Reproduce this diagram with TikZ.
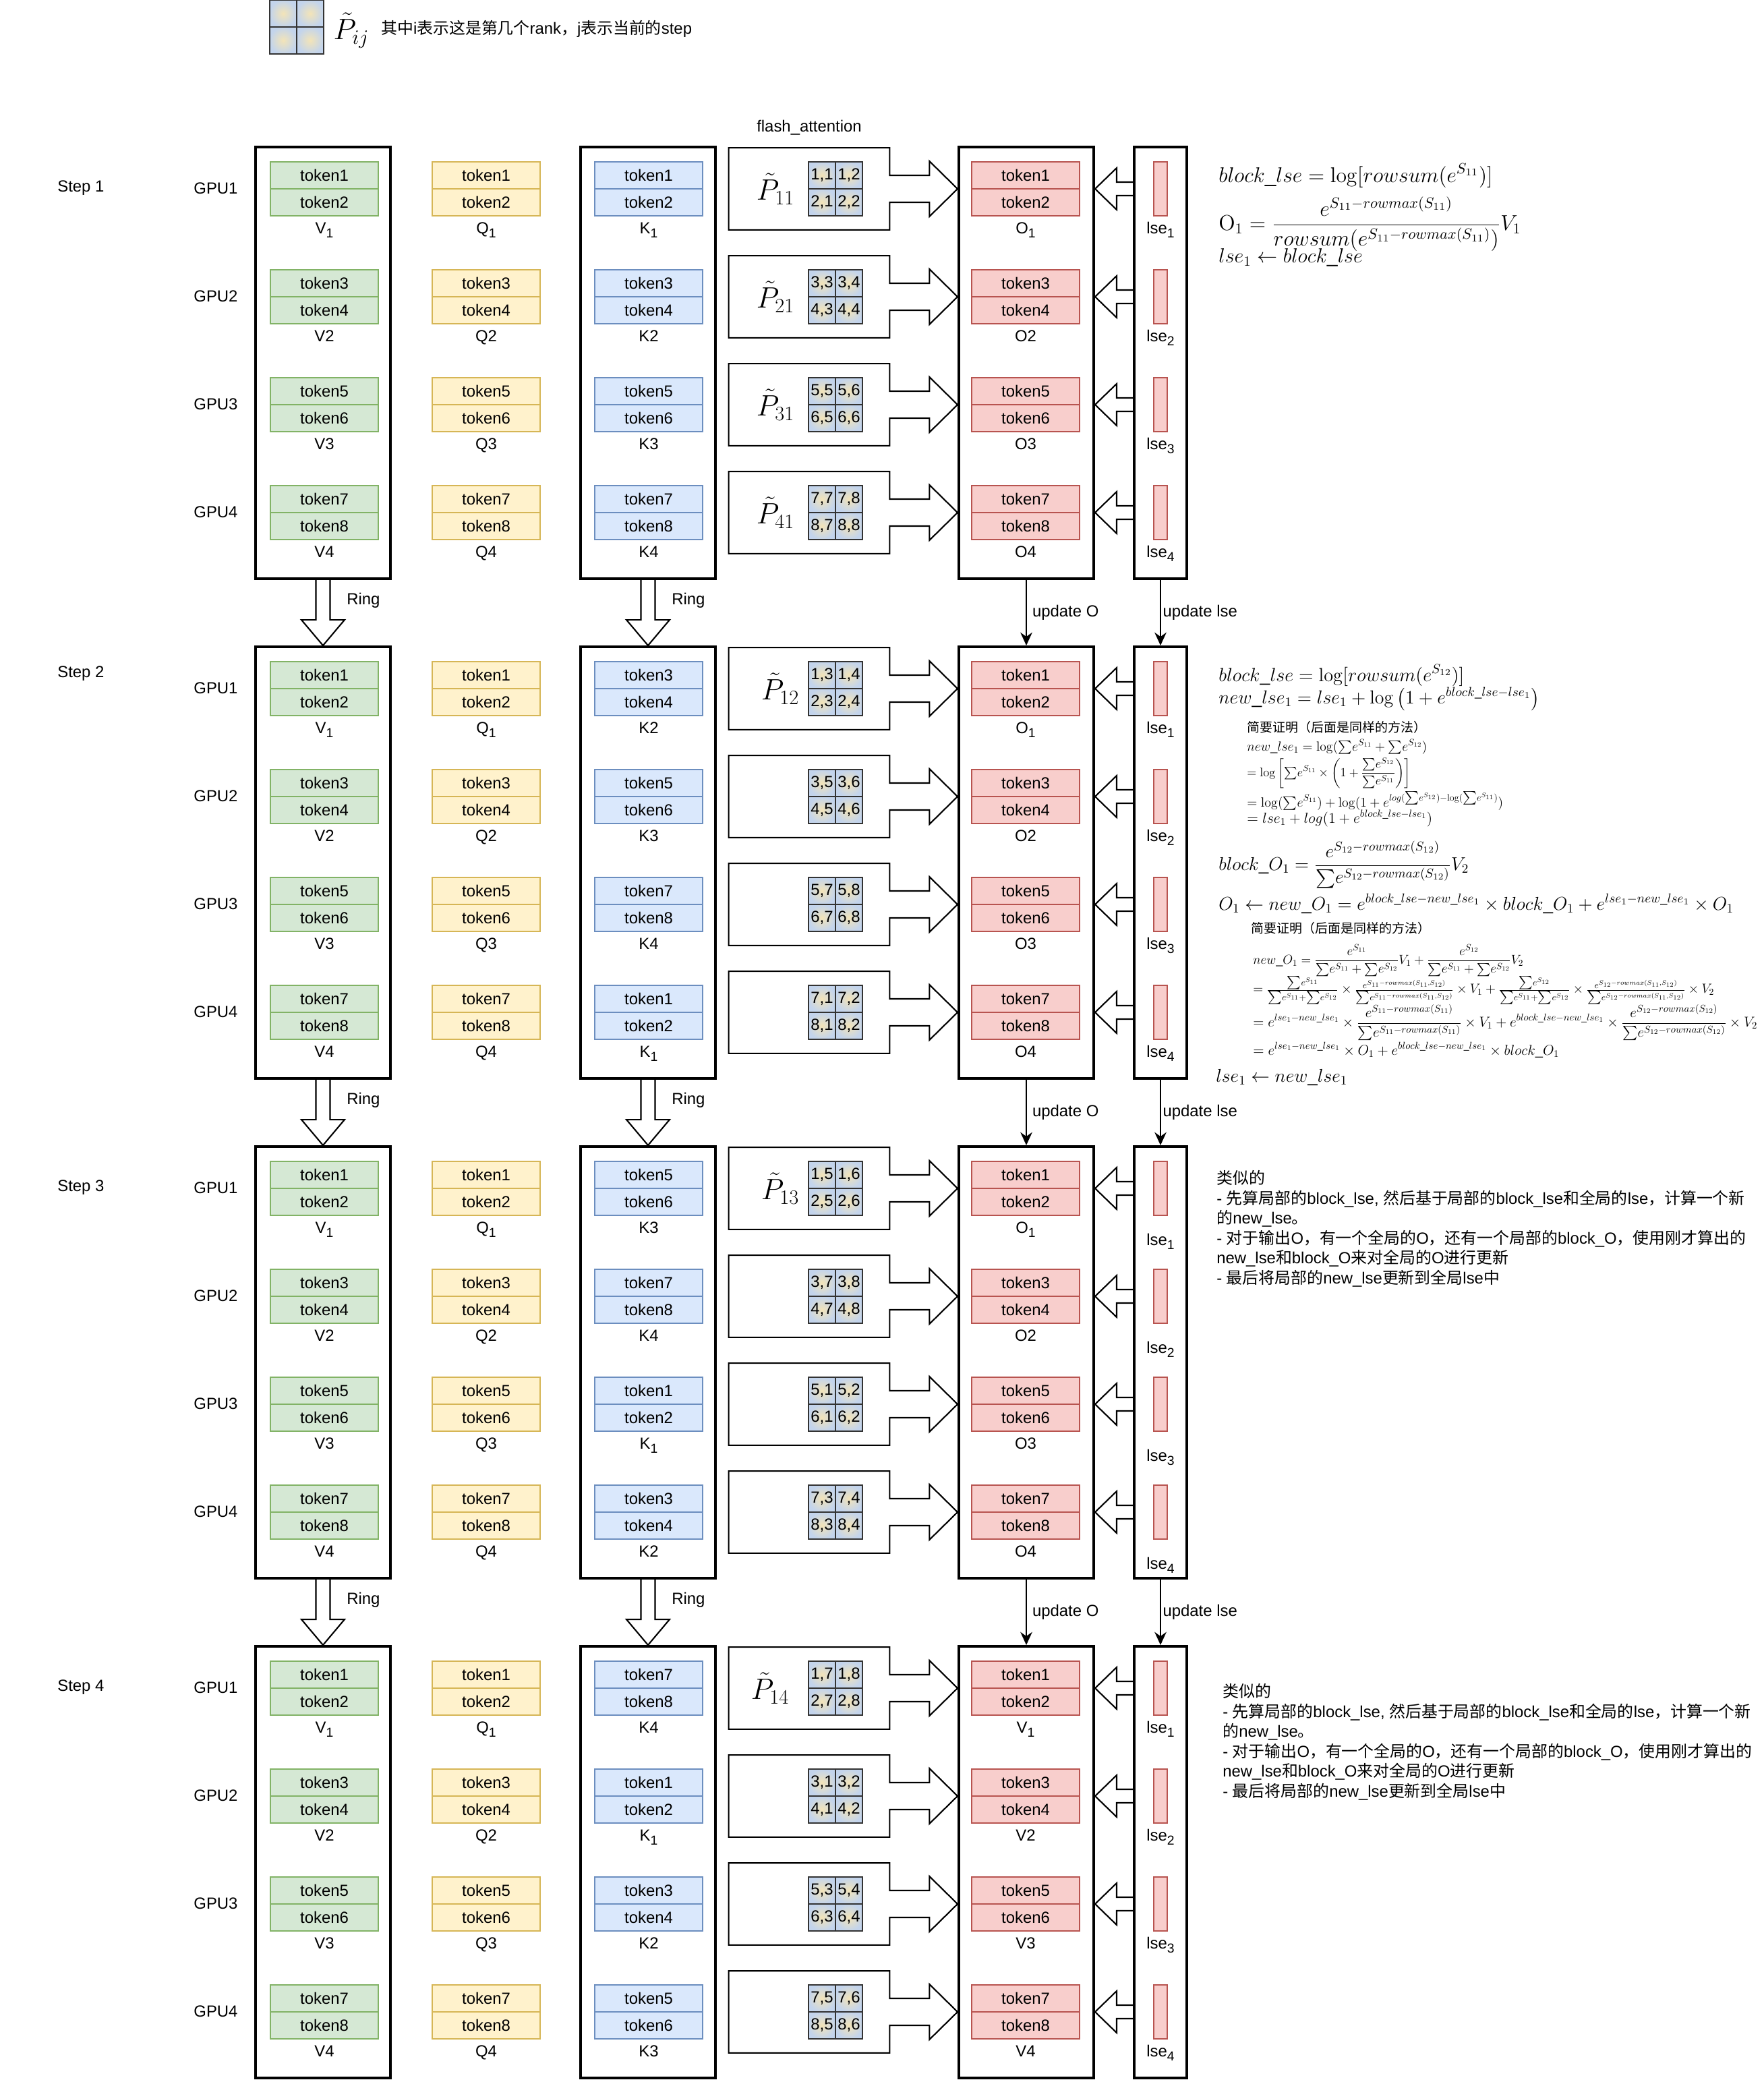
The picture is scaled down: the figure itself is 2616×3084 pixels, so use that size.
\documentclass[tikz,border=0pt]{standalone}
\usepackage{amsmath,graphicx}
\usepackage[no-math]{fontspec}
\setmainfont{Liberation Sans}
\newfontfamily\cjk{Noto Sans CJK SC}
\usetikzlibrary{calc,positioning,arrows.meta}
\definecolor{vfill}{HTML}{D5E8D4}
\definecolor{vdraw}{HTML}{82B366}
\definecolor{qfill}{HTML}{FFF2CC}
\definecolor{qdraw}{HTML}{D6B656}
\definecolor{kfill}{HTML}{DAE8FC}
\definecolor{kdraw}{HTML}{6C8EBF}
\definecolor{ofill}{HTML}{F8CECC}
\definecolor{odraw}{HTML}{B85450}
\definecolor{pblue}{HTML}{C3D4EC}
\definecolor{pyellow}{HTML}{F3E4B8}

\newcommand\zh[1]{{\cjk #1}}
\newcommand\tsum{{\textstyle\sum}}
\newcommand\fitw[2]{\resizebox{#1}{!}{$\displaystyle #2$}}
\newcommand\sub[1]{\raisebox{-3.7pt}{\fontsize{11}{11}\selectfont #1}}
\newcommand\sublab[2]{\ifnum#2=1 #1\sub{1}\else #1#2\fi}
\newcommand\ptil[1]{$\tilde{P}_{\hbox{\fontsize{17.28}{18}\selectfont$#1$}}$}
\newcommand\notes{\zh{类似的}\\
- \zh{先算局部的}block\_lse, \zh{然后基于局部的}block\_lse\zh{和全局的}lse\zh{，计算一个新}\\
\zh{的}new\_lse\zh{。}\\
- \zh{对于输出}O\zh{，有一个全局的}O\zh{，还有一个局部的}block\_O\zh{，使用刚才算出的}\\
new\_lse\zh{和}block\_O\zh{来对全局的}O\zh{进行更新}\\
- \zh{最后将局部的}new\_lse\zh{更新到全局}lse\zh{中}}

\begin{document}
\begin{tikzpicture}[x=0.02cm,y=-0.02cm,font=\fontsize{13.6}{16}\selectfont]

\tikzset{container/.style={draw,line width=2.3pt,minimum width=4cm,minimum height=12.8cm,inner sep=0pt},
lsecol/.style={container,minimum width=1.56cm},
token/.style={line width=1.2pt,minimum width=3.2cm,minimum height=0.8cm,inner sep=0pt,outer sep=0pt},
vtok/.style={token,draw=vdraw,fill=vfill},
qtok/.style={token,draw=qdraw,fill=qfill},
ktok/.style={token,draw=kdraw,fill=kfill},
otok/.style={token,draw=odraw,fill=ofill},
lsebar/.style={draw=odraw,fill=ofill,line width=1.2pt,minimum width=0.4cm,minimum height=1.6cm,inner sep=0pt},
cell/.style={draw=black!80,line width=1.1pt,minimum size=0.8cm,inner sep=0pt,outer sep=0pt,inner color=pyellow,outer color=pblue},
pbox/.style={minimum width=4.76cm,minimum height=2.42cm,inner sep=0pt},
plabel/.style={font=\fontsize{23}{27}\selectfont,inner sep=0pt},
blockarrow/.style={draw,line width=1.2pt,line join=miter},
update/.style={-{Stealth[length=11pt,width=10pt]},line width=1.2pt},
lbl/.style={inner sep=0pt,anchor=base},
formula/.style={anchor=west,inner sep=0pt},
small/.style={anchor=west,inner sep=0pt,font=\fontsize{10.8}{13}\selectfont}}

\useasboundingbox (0,0) rectangle (2616,3084);

% Legend
\node[cell] (lg-1) at (420,20) {};
\node[cell] (lg-2) at (460,20) {};
\node[cell] (lg-3) at (420,60) {};
\node[cell] (lg-4) at (460,60) {};
\node[plabel] (lgP) at (521,45) {\ptil{ij}};
\node[anchor=west,inner sep=0pt] (lgT) at (565,43) {\zh{其中}i\zh{表示这是第几个}rank\zh{，}j\zh{表示当前的}step};
\node (fa) at (1200,189) {flash\_attention};

% Steps
\foreach \s in {1,...,4}{
  \pgfmathtruncatemacro\sy{218+741*(\s-1)}
  \pgfmathtruncatemacro\off{(\s==3)*18}
  \node[container] (V-\s) at (479,\sy+320) {};
  \node[container] (K-\s) at (961,\sy+320) {};
  \node[container] (O-\s) at (1522,\sy+320) {};
  \node[lsecol] (L-\s) at (1721,\sy+320) {};
  \ifnum\s=2 \node[anchor=west,inner sep=0pt] (st-\s) at (85,\sy+40) {Step \s};
  \else \node[anchor=west,inner sep=0pt] (st-\s) at (85,\sy+61) {Step \s}; \fi
  \ifnum\s=4 \def\px{1142}\else\def\px{1157}\fi
  \foreach \g in {1,...,4}{
    \pgfmathtruncatemacro\gy{\sy+22+160*(\g-1)}
    \pgfmathtruncatemacro\ta{2*\g-1}
    \pgfmathtruncatemacro\tb{2*\g}
    \pgfmathtruncatemacro\kb{mod(\g+\s-2,4)+1}
    \pgfmathtruncatemacro\ka{2*\kb-1}
    \pgfmathtruncatemacro\kc{2*\kb}
    \node (gpu-\s-\g) at (320,\gy+39) {GPU\g};
    % V, Q, K
    \node[vtok] (v-\s-\g) at (481,\gy+20) {token\ta};
    \node[vtok,below=0pt of v-\s-\g] (vb-\s-\g) {token\tb};
    \node[lbl] (vl-\s-\g) at (481,\gy+106) {\sublab{V}{\g}};
    \node[qtok] (q-\s-\g) at (721,\gy+20) {token\ta};
    \node[qtok,below=0pt of q-\s-\g] (qb-\s-\g) {token\tb};
    \node[lbl] (ql-\s-\g) at (721,\gy+106) {\sublab{Q}{\g}};
    \node[ktok] (k-\s-\g) at (962,\gy+20) {token\ka};
    \node[ktok,below=0pt of k-\s-\g] (kb-\s-\g) {token\kc};
    \node[lbl] (kl-\s-\g) at (962,\gy+106) {\sublab{K}{\kb}};
    % O
    \node[otok] (o-\s-\g) at (1521,\gy+20) {token\ta};
    \node[otok,below=0pt of o-\s-\g] (ob-\s-\g) {token\tb};
    \ifnum\s=4 \node[lbl] (ol-\s-\g) at (1521,\gy+106) {\sublab{V}{\g}};
    \else \node[lbl] (ol-\s-\g) at (1521,\gy+106) {\sublab{O}{\g}}; \fi
    % lse
    \node[lsebar] (bar-\s-\g) at (1721,\gy+40) {};
    \node[lbl] (bl-\s-\g) at (1721,\gy+106+\off) {lse\sub{\g}};
    \draw[blockarrow] ($(bar-\s-\g -| L-\s.west)+(0,-10)$) -- ($(bar-\s-\g -| O-\s.east)+(32,-10)$) -- ($(bar-\s-\g -| O-\s.east)+(32,-31)$) -- (bar-\s-\g -| O-\s.east) -- ($(bar-\s-\g -| O-\s.east)+(32,31)$) -- ($(bar-\s-\g -| O-\s.east)+(32,10)$) -- ($(bar-\s-\g -| L-\s.west)+(0,10)$);
    % flash attention block
    \node[pbox] (p-\s-\g) at (1200,\gy+40) {};
    \draw[blockarrow] (p-\s-\g.north west) -- (p-\s-\g.north east) -- ($(p-\s-\g.east)+(0,-20)$) -- ($(p-\s-\g.east)+(59,-20)$) -- ($(p-\s-\g.east)+(59,-41)$) -- (p-\s-\g.east -| O-\s.west) -- ($(p-\s-\g.east)+(59,41)$) -- ($(p-\s-\g.east)+(59,20)$) -- ($(p-\s-\g.east)+(0,20)$) -- (p-\s-\g.south east) -- (p-\s-\g.south west) -- cycle;
    \node[cell] (c-\s-\g-1) at (1219,\gy+20) {\ta,\ka};
    \node[cell] (c-\s-\g-2) at (1259,\gy+20) {\ta,\kc};
    \node[cell] (c-\s-\g-3) at (1219,\gy+60) {\tb,\ka};
    \node[cell] (c-\s-\g-4) at (1259,\gy+60) {\tb,\kc};
    \ifnum\s=1 \node[plabel] (pl-\s-\g) at (1150,\gy+40) {\ptil{\g1}};
    \else\ifnum\g=1 \node[plabel] (pl-\s-\g) at (\px,\gy+40) {\ptil{1\s}};\fi\fi
  }
}

% Ring and update arrows
\foreach \s in {1,2,3}{
  \pgfmathtruncatemacro\n{\s+1}
  \foreach \col in {V,K}{
    \draw[blockarrow] ($(\col-\s.south)+(-10.5,0)$) -- ($(\col-\n.north)+(-10.5,-38)$) -- ($(\col-\n.north)+(-32,-38)$) -- (\col-\n.north) -- ($(\col-\n.north)+(32,-38)$) -- ($(\col-\n.north)+(10.5,-38)$) -- ($(\col-\s.south)+(10.5,0)$);
    \node[anchor=west,inner sep=0pt] (ring-\col-\s) at ($(\col-\s.south)+(35,30)$) {Ring};
  }
  \draw[update] (O-\s.south) -- (O-\n.north) node[midway,anchor=west,xshift=0.16cm,inner sep=0pt] (uo-\s) {update O};
  \draw[update] (L-\s.south) -- (L-\n.north) node[midway,anchor=west,xshift=0.05cm,inner sep=0pt] (ul-\s) {update lse};
}

% Step 1 formulas
\node[formula] (f1a) at (1807,260) {\fitw{8.13cm}{block\_lse = \log[rowsum(e^{S_{11}})]}};
\node[formula] (f1b) at (1807,332) {\fitw{8.97cm}{\mathrm{O}_1 = \frac{e^{S_{11}-rowmax(S_{11})}}{rowsum(e^{S_{11}-rowmax(S_{11})})}V_1}};
\node[formula] (f1c) at (1807,382) {\fitw{4.27cm}{lse_1 \leftarrow block\_lse}};

% Step 2 formulas
\node[formula] (f2a) at (1807,1001) {\fitw{7.28cm}{block\_lse = \log[rowsum(e^{S_{12}})]}};
\node[formula] (f2b) at (1807,1036) {\fitw{9.52cm}{new\_lse_1 = lse_1 + \log\left(1 + e^{block\_lse-lse_1}\right)}};
\node[small] (f2c) at (1849,1078) {\zh{简要证明（后面是同样的方法）}};
\node[formula] (f2d) at (1849,1107) {\fitw{5.34cm}{new\_lse_1 = \log(\tsum e^{S_{11}} + \tsum e^{S_{12}})}};
\node[formula] (f2e) at (1849,1146) {\fitw{4.86cm}{= \log\left[\tsum e^{S_{11}} \times \left(1 + \frac{\tsum e^{S_{12}}}{\tsum e^{S_{11}}}\right)\right]}};
\node[formula] (f2f) at (1849,1187) {\fitw{7.6cm}{= \log(\tsum e^{S_{11}}) + \log(1 + e^{log(\tsum e^{S_{12}})-\log(\tsum e^{S_{11}})})}};
\node[formula] (f2g) at (1849,1213) {\fitw{5.5cm}{= lse_1 + log(1 + e^{block\_lse-lse_1})}};
\node[formula] (f2h) at (1807,1282) {\fitw{7.42cm}{block\_O_1 = \frac{e^{S_{12}-rowmax(S_{12})}}{\tsum e^{S_{12}-rowmax(S_{12})}}V_2}};
\node[formula] (f2i) at (1807,1340) {\fitw{15.28cm}{O_1 \leftarrow new\_O_1 = e^{block\_lse-new\_lse_1} \times block\_O_1 + e^{lse_1-new\_lse_1} \times O_1}};
\node[small] (f2j) at (1855,1376) {\zh{简要证明（后面是同样的方法）}};
\node[formula] (f2k) at (1858,1424) {\fitw{8.02cm}{new\_O_1 = \frac{e^{S_{11}}}{\tsum e^{S_{11}} + \tsum e^{S_{12}}}V_1 + \frac{e^{S_{12}}}{\tsum e^{S_{11}} + \tsum e^{S_{12}}}V_2}};
\node[formula] (f2l) at (1858,1468) {\fitw{13.68cm}{= \tfrac{\tsum e^{S_{11}}}{\tsum e^{S_{11}}+\tsum e^{S_{12}}} \times \tfrac{e^{S_{11}-rowmax(S_{11},S_{12})}}{\tsum e^{S_{11}-rowmax(S_{11},S_{12})}} \times V_1 + \tfrac{\tsum e^{S_{12}}}{\tsum e^{S_{11}}+\tsum e^{S_{12}}} \times \tfrac{e^{S_{12}-rowmax(S_{11},S_{12})}}{\tsum e^{S_{12}-rowmax(S_{11},S_{12})}} \times V_2}};
\node[formula] (f2m) at (1858,1516) {\fitw{14.96cm}{= e^{lse_1-new\_lse_1} \times \frac{e^{S_{11}-rowmax(S_{11})}}{\tsum e^{S_{11}-rowmax(S_{11})}} \times V_1 + e^{block\_lse-new\_lse_1} \times \frac{e^{S_{12}-rowmax(S_{12})}}{\tsum e^{S_{12}-rowmax(S_{12})}} \times V_2}};
\node[formula] (f2n) at (1858,1557) {\fitw{9.08cm}{= e^{lse_1-new\_lse_1} \times O_1 + e^{block\_lse-new\_lse_1} \times block\_O_1}};
\node[formula] (f2o) at (1803,1597) {\fitw{3.9cm}{lse_1 \leftarrow new\_lse_1}};

% Step 3 and 4 notes
\node[anchor=north west,align=left,inner sep=0pt,font=\fontsize{13.6}{16.8}\selectfont] (n3) at (1804,1735) {\notes};
\node[anchor=north west,align=left,inner sep=0pt,font=\fontsize{13.6}{16.8}\selectfont] (n4) at (1813,2496) {\notes};

\end{tikzpicture}
\end{document}
